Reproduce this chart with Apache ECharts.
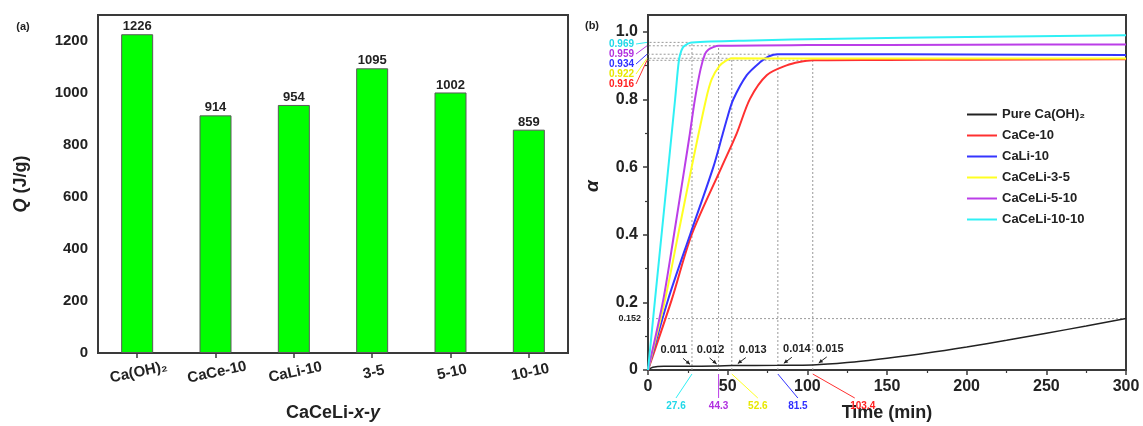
<!DOCTYPE html>
<html>
<head>
<meta charset="utf-8">
<script src="https://cdn.jsdelivr.net/npm/echarts@6/dist/echarts.min.js"></script>
<style>
  html, body { margin: 0; padding: 0; background: #fff; }
  #chart { width: 1143px; height: 426px; }
</style>
</head>
<body>
<div id="chart"></div>
<script>
// ---- (a) heat storage density ----
const sampleNames = ['Ca(OH)₂', 'CaCe-10', 'CaLi-10', '3-5', '5-10', '10-10'];
const heatQ = [1226, 914, 954, 1095, 1002, 859];
const qMajorTicks = [0, 200, 400, 600, 800, 1000, 1200];
const qMinorTicks = [100, 300, 500, 700, 900, 1100, 1300];

// ---- (b) conversion vs time ----
const curveNames = ['Pure Ca(OH)₂', 'CaCe-10', 'CaLi-10', 'CaCeLi-3-5', 'CaCeLi-5-10', 'CaCeLi-10-10'];

const pureTime  = [0, 3, 10, 27.6, 44.3, 52.6, 81.5, 103.4, 125, 150, 175, 200, 225, 250, 275, 300];
const pureAlpha = [0, 0.008, 0.011, 0.011, 0.012, 0.013, 0.014, 0.015, 0.022, 0.035, 0.05, 0.068, 0.088, 0.109, 0.13, 0.152];

const ceTime  = [0, 14.9, 27.4, 46.2, 55.7, 64, 74.5, 87, 95, 103.4, 150, 200, 300];
const ceAlpha = [0, 0.208, 0.4, 0.6, 0.7, 0.802, 0.872, 0.901, 0.911, 0.916, 0.917, 0.918, 0.919];

const liTime  = [0, 12.6, 26.4, 41, 47, 50, 53.5, 62, 70.3, 76, 81.5, 120, 200, 300];
const liAlpha = [0, 0.208, 0.4, 0.6, 0.7, 0.75, 0.8, 0.872, 0.91, 0.928, 0.934, 0.934, 0.933, 0.932];

const m35Time  = [0, 10.7, 18.9, 27.4, 36.4, 40, 45, 49, 52.6, 100, 200, 300];
const m35Alpha = [0, 0.208, 0.4, 0.6, 0.8, 0.86, 0.9, 0.915, 0.922, 0.921, 0.921, 0.921];

const m510Time  = [0, 9.6, 16.3, 23, 26.3, 29.5, 33, 35.8, 38, 41, 44.3, 100, 200, 300];
const m510Alpha = [0, 0.208, 0.4, 0.6, 0.7, 0.802, 0.89, 0.935, 0.948, 0.955, 0.959, 0.961, 0.962, 0.963];

const m1010Time  = [0, 4.4, 10, 17, 19, 20, 22, 25, 27.6, 60, 120, 200, 300];
const m1010Alpha = [0, 0.208, 0.47, 0.8, 0.9, 0.93, 0.955, 0.965, 0.969, 0.974, 0.98, 0.985, 0.99];

// times at which each modified sample levels off, and the conversion there
const plateauTime  = [27.6, 44.3, 52.6, 81.5, 103.4];
const plateauAlpha = [0.969, 0.959, 0.922, 0.934, 0.916];
// conversion of the pure hydroxide at those same times
const pureMarkAlpha = [0.011, 0.012, 0.013, 0.014, 0.015];
const pureFinalAlpha = 0.152;

const alphaMajorTicks = [0, 0.2, 0.4, 0.6, 0.8, 1.0];
const alphaMinorTicks = [0.1, 0.3, 0.5, 0.7, 0.9];

const FONT = 'Arial, "Liberation Sans", sans-serif';
const INK = '#222';
const AXIS = '#3a3a3a';
const colors = {
  pure: '#222222', ce: '#ff3030', li: '#3535ff', m35: '#ffff22', m510: '#bb3ee8', m1010: '#30f0f5'
};
const plateauColors = [colors.m1010, colors.m510, colors.m35, colors.li, colors.ce];
const plateauTextColors = ['#20d8e8', '#b030e0', '#e8e800', '#3030ff', '#ff2020'];

const zip = (xs, ys) => xs.map((x, i) => [x, ys[i]]);

const chart = echarts.init(document.getElementById('chart'), null, { renderer: 'canvas' });

const axisLineStyle = { color: AXIS, width: 2 };

const curveSeries = [
  ['pure', pureTime, pureAlpha, 1.5],
  ['ce', ceTime, ceAlpha, 2],
  ['li', liTime, liAlpha, 2],
  ['m35', m35Time, m35Alpha, 2],
  ['m510', m510Time, m510Alpha, 2],
  ['m1010', m1010Time, m1010Alpha, 2]
].map((c, i) => ({
  name: curveNames[i],
  type: 'line',
  xAxisIndex: 1, yAxisIndex: 2,
  data: zip(c[1], c[2]),
  symbol: 'none',
  smooth: 0.3,
  lineStyle: { color: colors[c[0]], width: c[3] },
  itemStyle: { color: colors[c[0]] },
  z: 5
}));

// dotted guide lines: down to the time axis and across to the conversion axis
const guideStyle = { color: '#999', width: 1, type: [2, 2] };
const guideSeries = plateauTime.map((t, i) => ({
  type: 'line', xAxisIndex: 1, yAxisIndex: 2, silent: true, symbol: 'none',
  data: [[t, 0], [t, plateauAlpha[i]], [0, plateauAlpha[i]]],
  lineStyle: guideStyle, z: 2
}));
guideSeries.push({
  type: 'line', xAxisIndex: 1, yAxisIndex: 2, silent: true, symbol: 'none',
  data: [[0, pureFinalAlpha], [300, pureFinalAlpha]],
  lineStyle: guideStyle, z: 2
});

const option = {
  animation: false,
  backgroundColor: '#fff',
  textStyle: { fontFamily: FONT },
  grid: [
    { left: 98, top: 15, width: 470, height: 338, show: true, borderColor: AXIS, borderWidth: 2, backgroundColor: 'transparent' },
    { left: 648, top: 15, width: 478, height: 355, show: true, borderColor: AXIS, borderWidth: 2, backgroundColor: 'transparent' }
  ],
  xAxis: [
    {
      gridIndex: 0, type: 'category', data: sampleNames, boundaryGap: true,
      axisLine: { lineStyle: axisLineStyle },
      axisTick: { show: true, alignWithLabel: true, inside: false, length: 5, lineStyle: { color: AXIS, width: 1.5 } },
      axisLabel: {
        interval: 0,
        rotate: 12, align: 'center', verticalAlign: 'top', margin: 12,
        fontSize: 15, fontWeight: 'bold', color: INK, fontFamily: FONT
      },
      splitLine: { show: false }
    },
    {
      gridIndex: 1, type: 'value', min: 0, max: 300, interval: 50,
      axisLine: { lineStyle: axisLineStyle },
      axisTick: { length: 5, lineStyle: { color: AXIS, width: 1.5 } },
      minorTick: { show: true, splitNumber: 2, length: 3, lineStyle: { color: AXIS, width: 1.2 } },
      axisLabel: { fontSize: 16, fontWeight: 'bold', color: INK, margin: 9, fontFamily: FONT },
      splitLine: { show: false }
    }
  ],
  yAxis: [
    {
      gridIndex: 0, type: 'value', min: 0, max: 1300,
      axisLine: { lineStyle: axisLineStyle },
      axisTick: { length: 6, lineStyle: { color: AXIS, width: 1.5 }, customValues: qMajorTicks },
      axisLabel: {
        customValues: qMajorTicks, formatter: v => String(v),
        fontSize: 15, fontWeight: 'bold', color: INK, margin: 10, fontFamily: FONT
      },
      splitLine: { show: false }
    },
    {
      gridIndex: 0, type: 'value', min: 0, max: 1300, position: 'left',
      axisLine: { show: false },
      axisTick: { length: 3, lineStyle: { color: AXIS, width: 1.2 }, customValues: qMinorTicks },
      axisLabel: { show: false },
      splitLine: { show: false }
    },
    {
      gridIndex: 1, type: 'value', min: 0, max: 1.05,
      axisLine: { lineStyle: axisLineStyle },
      axisTick: { length: 5, lineStyle: { color: AXIS, width: 1.5 }, customValues: alphaMajorTicks },
      axisLabel: {
        customValues: alphaMajorTicks,
        formatter: v => (v === 0 ? '0' : v.toFixed(1)),
        fontSize: 16, fontWeight: 'bold', color: INK, margin: 10, fontFamily: FONT
      },
      splitLine: { show: false }
    },
    {
      gridIndex: 1, type: 'value', min: 0, max: 1.05, position: 'left',
      axisLine: { show: false },
      axisTick: { length: 3, lineStyle: { color: AXIS, width: 1.2 }, customValues: alphaMinorTicks },
      axisLabel: { show: false },
      splitLine: { show: false }
    }
  ],
  legend: {
    data: curveNames,
    orient: 'vertical',
    left: 962, top: 103,
    itemWidth: 30, itemHeight: 12, itemGap: 8,
    icon: 'path://M0,5 L30,5 L30,7 L0,7 Z',
    textStyle: { fontSize: 13, fontWeight: 'bold', color: INK, fontFamily: FONT, padding: [0, 0, 0, 0] }
  },
  series: [
    {
      type: 'bar', xAxisIndex: 0, yAxisIndex: 0,
      data: heatQ,
      barWidth: 32,
      itemStyle: { color: '#00ff00', borderColor: '#5a5a5a', borderWidth: 1 },
      label: { show: true, position: 'top', distance: 1, fontSize: 13, fontWeight: 'bold', color: INK, fontFamily: FONT },
      z: 3
    },
    ...guideSeries,
    ...curveSeries
  ]
};

chart.setOption(option);

// ---- annotations placed through the axes of panel (b) ----
const px = (t, a) => chart.convertToPixel({ gridIndex: 1 }, [t, a]);

function arrow(x1, y1, x2, y2, color) {
  const ang = Math.atan2(y2 - y1, x2 - x1), h = 4, w = 2;
  const c = Math.cos(ang), s = Math.sin(ang);
  return [
    { type: 'line', shape: { x1, y1, x2, y2 }, style: { stroke: color, lineWidth: 1 }, z: 20 },
    { type: 'polygon', shape: { points: [[x2, y2], [x2 - h * c + w * s, y2 - h * s - w * c], [x2 - h * c - w * s, y2 - h * s + w * c]] }, style: { fill: color }, z: 20 }
  ];
}

const g = [];
const boldText = (x, y, text, size, fill, align, extra) => ({
  type: 'text', x, y, z: 20,
  style: Object.assign({ text, fontSize: size, fontWeight: 'bold', fontFamily: FONT, fill, align: align || 'center', verticalAlign: 'middle' }, extra || {})
});

// panel tags
g.push(boldText(23, 27, '(a)', 11, INK));
g.push(boldText(592, 26, '(b)', 11, INK));

// axis titles
g.push({
  type: 'text', x: 333, y: 413, z: 20,
  style: {
    text: '{n|CaCeLi-}{i|x}{n|-}{i|y}', align: 'center', verticalAlign: 'middle',
    rich: {
      n: { fontSize: 18, fontWeight: 'bold', fontFamily: FONT, fill: INK },
      i: { fontSize: 18, fontWeight: 'bold', fontStyle: 'italic', fontFamily: FONT, fill: INK }
    }
  }
});
g.push({
  type: 'text', x: 21, y: 184, rotation: Math.PI / 2, z: 20,
  style: {
    text: '{i|Q}{n| (J/g)}', align: 'center', verticalAlign: 'middle',
    rich: {
      n: { fontSize: 18, fontWeight: 'bold', fontFamily: FONT, fill: INK },
      i: { fontSize: 18, fontWeight: 'bold', fontStyle: 'italic', fontFamily: FONT, fill: INK }
    }
  }
});
g.push({
  type: 'text', x: 593, y: 186, rotation: Math.PI / 2, z: 20,
  style: { text: 'α', fontSize: 19, fontWeight: 'bold', fontStyle: 'italic', fontFamily: FONT, fill: INK, align: 'center', verticalAlign: 'middle' }
});
g.push(boldText(887, 413, 'Time (min)', 18, INK));

// plateau conversions listed beside the α axis, sorted top to bottom
const order = plateauAlpha.map((a, i) => i).sort((i, j) => plateauAlpha[j] - plateauAlpha[i]);
order.forEach((idx, k) => {
  const ly = 44 + k * 10;
  const p = px(0, plateauAlpha[idx]);
  g.push(boldText(634, ly, plateauAlpha[idx].toFixed(3), 10, plateauTextColors[idx], 'right'));
  g.push({ type: 'line', shape: { x1: 636, y1: ly, x2: p[0] - 1, y2: p[1] }, style: { stroke: plateauColors[idx], lineWidth: 1 }, z: 20 });
});

// plateau times listed under the time axis
const timeLabelDx = [-16, 0, 26, 20, 50];
plateauTime.forEach((t, i) => {
  const p = px(t, 0);
  const lx = p[0] + timeLabelDx[i];
  g.push(boldText(lx, 406, String(t), 10, plateauTextColors[i]));
  g.push({ type: 'line', shape: { x1: p[0], y1: p[1] + 4, x2: lx + (timeLabelDx[i] > 30 ? -8 : 0), y2: 398 }, style: { stroke: plateauColors[i], lineWidth: 1 }, z: 20 });
});

// pure hydroxide conversion at the same times
const pureTextDx = [-18, -8, 21, 19, 17];
const arrowFrom = [[-9, -8], [-9, -8], [14, -8], [14, -8], [14, -8]];
const arrowTo = [[-2, -2], [-2, -2], [6, -2], [6, -2], [6, -2]];
plateauTime.forEach((t, i) => {
  const p = px(t, pureMarkAlpha[i]);
  g.push(boldText(p[0] + pureTextDx[i], p[1] - 16, pureMarkAlpha[i].toFixed(3), 11, INK));
  g.push(...arrow(p[0] + arrowFrom[i][0], p[1] + arrowFrom[i][1], p[0] + arrowTo[i][0], p[1] + arrowTo[i][1], INK));
});

// final conversion of the pure hydroxide
const pf = px(0, pureFinalAlpha);
g.push(boldText(pf[0] - 7, pf[1], pureFinalAlpha.toFixed(3), 9, INK, 'right'));

chart.setOption({ graphic: g });
</script>
</body>
</html>
